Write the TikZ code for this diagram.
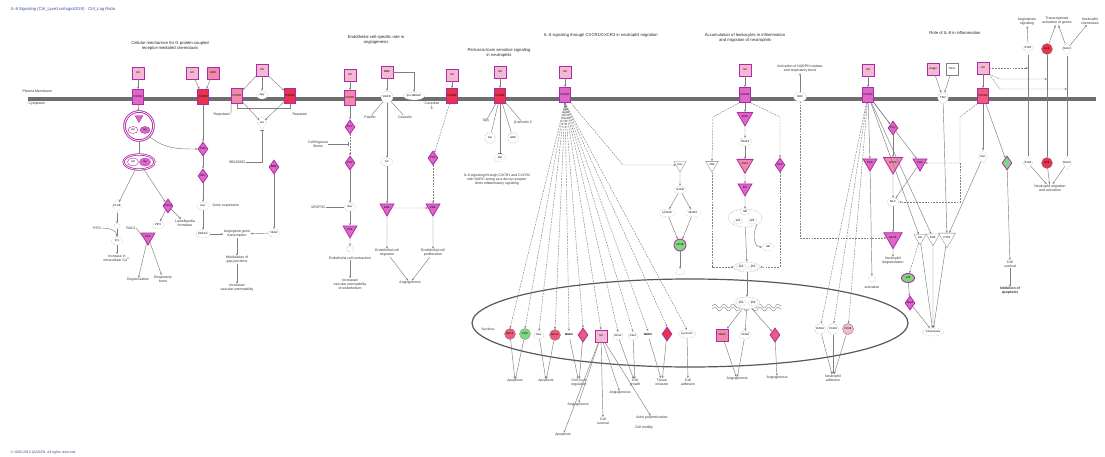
\documentclass[tikz,border=0pt]{standalone}
\usepackage{fontspec}
\setmainfont{Liberation Sans}
\usetikzlibrary{shapes.geometric,arrows.meta,decorations.pathmorphing}
\definecolor{pinkL}{HTML}{F4B8D4}
\definecolor{pinkM}{HTML}{F08AAC}
\definecolor{redM}{HTML}{EE5A78}
\definecolor{redD}{HTML}{E8334F}
\definecolor{magD}{HTML}{B02AA8}
\definecolor{magF}{HTML}{DD66C8}
\definecolor{memG}{HTML}{6E6E6E}
\definecolor{lnG}{HTML}{7F7F7F}
\definecolor{grnF}{HTML}{7ED87E}
\definecolor{ttlB}{HTML}{3A4BB0}
\newcommand\txsz{\fontsize{3.5}{4}\selectfont}
\newcommand\hdsz{\fontsize{4.2}{4.8}\selectfont}
\newcommand\nsz{\fontsize{2.7}{3.1}\selectfont}
\begin{document}
\begin{tikzpicture}[x=1pt,y=-1pt,
  every node/.style={inner sep=0.4pt},
  txt/.style={font=\txsz,align=center,text=black!80},
  hd/.style={font=\hdsz,align=center,text=black!85},
  lig/.style={rectangle,draw=magD,line width=0.7pt,fill=pinkL,minimum width=12pt,minimum height=12pt,font=\nsz},
  rec/.style={rectangle,draw=magD,line width=0.7pt,fill=redM,minimum width=11pt,minimum height=15pt,font=\nsz},
  enz/.style={diamond,draw=magD,line width=0.8pt,fill=magF,minimum width=10pt,minimum height=14pt,inner sep=0pt,font=\nsz},
  kin/.style={regular polygon,regular polygon sides=3,shape border rotate=180,draw=magD,line width=0.8pt,fill=magF,minimum size=16pt,inner sep=0pt,font=\nsz},
  wht/.style={ellipse,draw=lnG,densely dotted,line width=0.3pt,fill=white,minimum width=12pt,minimum height=8pt,font=\nsz},
  wdia/.style={diamond,draw=lnG,densely dotted,line width=0.3pt,fill=white,minimum width=10pt,minimum height=13pt,inner sep=0pt,font=\nsz},
  wtri/.style={regular polygon,regular polygon sides=3,shape border rotate=180,draw=lnG,line width=0.3pt,fill=white,minimum size=14pt,inner sep=0pt,font=\nsz},
  circ/.style={circle,draw=lnG,line width=0.3pt,fill=redM,minimum size=11pt,inner sep=0pt,font=\nsz},
  cplx/.style={ellipse,draw=magD,double=white,double distance=0.6pt,line width=0.8pt,fill=white},
  ar/.style={draw=lnG,line width=0.45pt,-{Stealth[length=2.4pt,width=2pt]}},
  da/.style={ar,dash pattern=on 1.8pt off 1.1pt},
  inh/.style={draw=lnG,line width=0.45pt,-{Bar[width=3.2pt]}},
  ln/.style={draw=lnG,line width=0.45pt},
]
\useasboundingbox (0,0) rectangle (1105,457);
\fill[white] (0,0) rectangle (1105,457);

% ---------- header / footer ----------
\node[anchor=west,font=\hdsz,text=ttlB] (ttl) at (10,9) {IL-8 Signaling (Ctrl\_Lyve1vsAngio2019) : Ctrl\_Log Ratio};
\node[anchor=west,font=\txsz,text=ttlB] (cpy) at (10,453) {\textcopyright{} 2000-2019 QIAGEN. All rights reserved.};

% ---------- membrane ----------
\node[fill=memG,minimum width=1068pt,minimum height=4.5pt,inner sep=0pt] (mem) at (562,99) {};
\node[txt,anchor=west] (pm) at (22,91) {Plasma Membrane};
\node[txt,anchor=west] (cy) at (28,104) {Cytoplasm};

% ---------- section titles ----------
\node[hd] (t1) at (170,46) {Cellular mechanism for G protein-coupled\\receptor-mediated chemotaxis};
\node[hd] (t2) at (376,40) {Endothelial cell-specific role in\\angiogenesis};
\node[hd] (t3) at (499,53) {Pertussis-toxin sensitive signaling\\in neutrophils};
\node[hd] (t4) at (601,35) {IL-8 signaling through CXCR1/CXCR2 in neutrophil migration};
\node[hd] (t5) at (745,38) {Accumulation of leukocytes in inflammation\\and migration of neutrophils};
\node[hd] (t6) at (955,33) {Role of IL-8 in inflammation};
\node[txt] (tRA) at (1027,22) {Angiotensin\\signaling};
\node[txt] (tRB) at (1057,21) {Transcriptional\\activation of genes};
\node[txt] (tRC) at (1090,21) {Neutrophil\\chemotaxis};

% ---------- section 1 ----------
\node[lig] (L1) at (138,73) {IL8};
\node[rec,fill=magF] (R1) at (138,97) {CXCR1};
\node[circle,draw=magD,double=white,double distance=0.7pt,line width=0.9pt,minimum size=29pt,fill=white] (C1) at (139,126) {};
\node[regular polygon,regular polygon sides=3,shape border rotate=180,fill=magF,draw=magD,minimum size=9pt,inner sep=0pt] (C1a) at (139,118) {};
\node[ellipse,draw=magD,fill=white,minimum width=10pt,minimum height=7pt,font=\nsz,inner sep=0pt] (C1b) at (133,130) {Gβ};
\node[ellipse,draw=magD,fill=magF,minimum width=10pt,minimum height=7pt,font=\nsz,inner sep=0pt] (C1c) at (145,130) {Gγ};
\node[cplx,minimum width=31pt,minimum height=15pt] (E1) at (139,162) {};
\node[ellipse,draw=magD,fill=white,minimum width=11pt,minimum height=8pt,font=\nsz,inner sep=0pt] (E1a) at (133,162) {Gβ};
\node[ellipse,draw=magD,fill=magF,minimum width=11pt,minimum height=8pt,font=\nsz,inner sep=0pt] (E1b) at (145,162) {Gγ};
\node[wdia] (D1) at (117,206) {PLCβ};
\node[enz] (D2) at (168,206) {PI3Kγ};
\node[wht,minimum width=6pt,minimum height=5pt] (W1) at (117,226) {};
\node[wht] (W2) at (117,241) {IP3};
\node[txt] (tCa) at (117,258) {Increase in\\intracellular Ca\textsuperscript{2+}};
\node[txt] (tDAG) at (97,228) {PIP2};
\node[txt] (tRAC) at (131,228) {RAC2};
\node[kin] (T1) at (148,237) {PKC};
\node[txt] (tDeg) at (138,280) {Degranulation};
\node[txt] (tRes) at (163,279) {Respiratory\\burst};
\node[wht] (W3) at (158,225) {PIP3};
\node[txt] (tLam) at (185,223) {Lamellipodia\\formation};

\draw[ar] (L1) -- (R1);
\draw[ar] (R1) -- (C1);
\draw[ln] (C1) -- (E1);
\draw[ar] (E1) -- (D1);
\draw[ar] (E1) -- (D2);
\draw[ar] (D1) -- (W1);
\draw[ar] (W1) -- (W2);
\draw[ar] (W2) -- (tCa);
\draw[ar] (tDAG.east) to[out=0,in=90] (W2.north);
\draw[ln] (tRAC.east) -- (T1.west);
\draw[ar] (T1) -- (tDeg);
\draw[ar] (T1) -- (tRes);
\draw[ar] (D2) -- (W3);
\draw[ar] (D2) -- (tLam);

% ---------- section 1b ----------
\node[lig] (L2) at (192,73) {IL8};
\node[lig,fill=pinkM] (L3) at (213,73) {GRO};
\node[rec,fill=redD] (R2) at (203,97) {CXCR2};
\node[enz] (D3) at (203,149) {PI3K};
\node[enz] (D4) at (203,176) {AKT};
\node[wht] (W4) at (203,206) {Rac};
\node[txt,anchor=west] (tGE) at (212,206) {Gene expression};
\node[wht] (W5) at (203,234) {ERK\\[-0.5pt]1/2};
\node[txt] (tAng) at (237,234) {Angiogenic gene\\transcription};
\node[txt] (tMob) at (237,260) {Mobilization of\\gap junctions};
\node[txt] (tVas) at (237,288) {Increased\\vascular permeability};
\node[enz] (D5) at (274,167) {MMP};
\node[wht] (W6) at (274,233) {VEGF};

\draw[ar] (L2) -- (R2);
\draw[ar] (L3) -- (R2);
\draw[ar] (R2) -- (D3);
\draw[ar] (C1.south east) to[out=-40,in=180] (D3.west);
\draw[ar] (D3) -- (D4);
\draw[ar] (D4) -- (W4);
\draw[ar] (W4) -- (W5);
\draw[ar] (W5) -- (tAng);
\draw[ar] (W6) -- (tAng);
\draw[ar] (D5) -- (W6);
\draw[ar] (tAng) -- (tMob);
\draw[ar] (tMob) -- (tVas);

\node[lig] (L4) at (262,70) {IL8};
\node[rec,fill=pinkM] (R3) at (237,96) {CXCR1};
\node[rec,fill=redD] (R4) at (290,96) {CXCR2};
\node[wht] (W7) at (262,95) {Gβγ};
\node[wdia] (W8) at (262,123) {Gα};
\node[txt] (tSB) at (237,162) {SB225002};
\node[txt] (tRp1) at (222,115) {Repertaxin};
\node[txt] (tRp2) at (300,115) {Reparixin};
\draw[ar] (L4) -- (R3);
\draw[ar] (L4) -- (R4);
\draw[ar] (L4) -- (W7);
\draw[ar] (R3) -- (W8);
\draw[ar] (R4) -- (W8);
\draw[ln,line width=0.9pt] (R3.south) -- ++(0,5) -| (R4.south);
\draw[inh] (tSB.east) -| (W8.south);
\draw[ln] (tRp1.north east) -- (R3.south west);

% ---------- section 2 ----------
\node[lig] (L5) at (350,75) {IL8};
\node[rec,fill=pinkM] (R5) at (350,98) {CXCR1};
\node[enz] (D6) at (350,127) {PLC};
\node[enz] (D7) at (350,163) {PKC};
\node[txt] (tHyp) at (318,144) {Cell/Hypoxia\\Stress};
\coordinate (hypE) at (348,144);
\node[wht] (W9) at (350,207) {Rac};
\node[txt] (tVR) at (318,207) {VEGFR2};
\node[kin] (T2) at (350,230) {PAK};
\node[wht,minimum width=7pt,minimum height=6pt] (W10) at (350,249) {};
\node[txt] (tEC) at (350,258) {Endothelial cell contraction};
\node[txt] (tIV) at (350,284) {Increased\\vascular permeability\\of endothelium};
\draw[ar] (L5) -- (R5);
\draw[ar] (R5) -- (D6);
\draw[da] (D6) -- (D7);
\draw[inh] (tHyp.east) -- (hypE);
\draw[ar] (D7) -- (W9);
\draw[ln] (tVR) -- (W9);
\draw[ar] (W9) -- (T2);
\draw[ar] (T2) -- (W10);
\draw[ar] (tEC) -- (tIV);

\node[lig] (L6) at (387,72) {MMP};
\node[circle,draw=lnG,densely dotted,line width=0.3pt,fill=white,minimum size=12pt,inner sep=0pt,font=\nsz] (W11) at (387,97) {EGFR};
\node[txt] (tP1) at (370,117) {Paxillin};
\node[txt] (tP2) at (405,117) {Caveolin};
\node[wht,minimum width=20pt] (E2) at (414,96) {pro-HBEGF};
\node[wht] (W12) at (387,162) {Src};
\node[kin] (T3) at (387,208) {ERK};
\node[kin] (T4) at (433,208) {ERK};
\node[lig] (L7) at (452,75) {IL8};
\node[rec,fill=redD] (R6) at (452,96) {CXCR2};
\node[txt] (tCav) at (432,106) {Caveolae\\$\downarrow$};
\node[enz] (D8) at (433,158) {PKC};
\node[txt] (tEM) at (387,253) {Endothelial cell\\migration};
\node[txt] (tEP) at (433,253) {Endothelial cell\\proliferation};
\node[txt] (tAn) at (410,283) {Angiogenesis};
\draw[ar] (L6) -- (W11);
\draw[ar] (L6.east) -| (E2.north);
\draw[ln] (W11) -- (tP1);
\draw[ln] (W11) -- (tP2);
\draw[ar] (W11) -- (W12);
\draw[ar] (W12) -- (T3);
\draw[da] (T3) -- (T4);
\draw[ar] (T3) -- (tEM);
\draw[ar] (T4) -- (tEP);
\draw[ar] (tEM) -- (tAn);
\draw[ar] (tEP) -- (tAn);
\draw[ar] (L7) -- (R6);
\draw[da] (R6) -- (D8);
\draw[da] (D8) -- (T4);

% ---------- section 3 ----------
\node[lig] (L8) at (500,72) {IL8};
\node[rec,fill=redD] (R7) at (500,96) {CXCR2};
\node[txt] (tS1) at (486,121) {Gβγ};
\node[circle,draw=lnG,densely dotted,fill=white,minimum size=11pt,inner sep=0pt,font=\nsz] (W13) at (490,138) {Gαi};
\node[circle,draw=lnG,densely dotted,fill=white,minimum size=11pt,inner sep=0pt,font=\nsz] (W14) at (513,138) {GRK};
\node[txt] (tS2) at (523,123) {β-arrestin 2};
\node[wht] (W15) at (500,158) {JAK};
\node[txt] (tPara) at (497,180) {IL-8 signaling through CXCR1 and CXCR2\\with DARC acting as a decoy receptor\\limits inflammatory signaling};
\draw[ar] (L8) -- (R7);
\draw[ln] (R7) -- (tS1);
\draw[ln] (R7) -- (W13);
\draw[ln] (R7) -- (W14);
\draw[ln] (R7) -- (tS2);
\draw[inh] (R7) -- (W15);

% ---------- nucleus ----------
\node[ellipse,draw=black!65,line width=1.2pt,minimum width=436pt,minimum height=88pt] (nuc) at (690,323) {};
\node[txt] (tNuc) at (488,329) {Nucleus};
\node[circ] (N1) at (510,334) {BCL2};
\node[circ,fill=grnF] (N2) at (525,334) {CDK};
\node[wht,minimum width=10pt] (N3) at (539,335) {Bax};
\node[circ] (N4) at (555,335) {Bcl-xL};
\node[wht,draw=white,font=\nsz\bfseries] (N5) at (569,335) {MMP2};
\node[enz,fill=redM] (N6) at (583,335) {};
\node[lig,fill=pinkL] (N7) at (601,336) {IL8};
\node[wht,minimum width=10pt] (N8) at (618,336) {RhoA};
\node[wht,minimum width=10pt] (N9) at (633,336) {Cdc2};
\node[wht,draw=white,font=\nsz\bfseries] (N10) at (648,335) {MMP9};
\node[enz,fill=redD] (N11) at (667,334) {};
\node[wht,minimum width=16pt] (N12) at (687,334) {Cyclin D1};
\node[lig,fill=pinkM] (N13) at (722,335) {VEGF};
\node[wht] (N14) at (745,335) {VCAM};
\node[enz,fill=redM] (N15) at (775,335) {};
\node[txt] (tO1) at (515,381) {Apoptosis};
\node[txt] (tO2) at (546,381) {Apoptosis};
\node[txt] (tO3) at (579,383) {Cell cycle\\regulation};
\node[txt] (tO4) at (620,393) {Angiogenesis};
\node[txt] (tO5) at (635,383) {Cell\\growth};
\node[txt] (tO6) at (662,382) {Tissue\\invasion};
\node[txt] (tO7) at (688,382) {Cell\\adhesion};
\node[txt] (tO8) at (737,379) {Angiogenesis};
\node[txt] (tO9) at (777,378) {Angiogenesis};
\node[txt] (tB1) at (578,405) {Angiogenesis};
\node[txt] (tB2) at (603,421) {Cell\\survival};
\node[txt] (tB3) at (563,435) {Apoptosis};
\node[txt] (tB4) at (652,418) {Actin polymerization};
\node[txt] (tB5) at (644,428) {Cell motility};

% ---------- section 4 ----------
\node[lig] (L9) at (565,72) {IL8};
\node[rec,fill=magF] (R8) at (565,95) {CXCR1};
\node[wtri] (T5) at (680,165) {Rac};
\node[wht] (W16) at (680,190) {mTOR};
\node[wht,minimum width=15pt] (W17) at (667,213) {p70S6K};
\node[wht,minimum width=15pt] (W18) at (693,213) {4E-BP1};
\node[circle,draw=magD,line width=0.8pt,fill=grnF,minimum size=12pt,inner sep=0pt,font=\nsz] (G1) at (680,245) {eIF4E};
\node[wht,minimum width=9pt,minimum height=6pt] (W19) at (680,272) {};
\coordinate (k1) at (623,165);
\draw[ar] (L9) -- (R8);
\draw[da] (R8.south east) -- (k1) -- (T5.west);
\draw[ar] (T5) -- (W16);
\draw[ar] (W16) -- (W17);
\draw[ar] (W16) -- (W18);
\draw[ar] (W17) -- (G1);
\draw[ar] (W18) -- (G1);
\draw[ar] (G1) -- (W19);
\foreach \n in {N1,N2,N3,N4,N5,N6,N7,N8,N9,N10,N11,N12}{\draw[da] (R8.south) -- (\n.north);}
\draw[ar] (N1) -- (tO1);
\draw[ar] (N2) -- (tO1);
\draw[ar] (N3) -- (tO2);
\draw[ar] (N4) -- (tO2);
\draw[ar] (N5) -- (tO3);
\draw[ar] (N6) -- (tO3);
\draw[ar] (N7) -- (tO4);
\draw[ar] (N7) -- (tB1);
\draw[ar] (N7) -- (tB2);
\draw[ar] (N7) -- (tB3);
\draw[ar] (N7) -- (tB4);
\draw[ar] (N8) -- (tO5);
\draw[ar] (N9) -- (tO5);
\draw[ar] (N10) -- (tO6);
\draw[ar] (N11) -- (tO6);
\draw[ar] (N12) -- (tO7);
\draw[ar] (N13) -- (tO8);
\draw[ar] (N14) -- (tO8);
\draw[ar] (N15) -- (tO9);

% ---------- section 5 ----------
\node[lig] (L10) at (745,70) {IL8};
\node[rec,fill=magF] (R9) at (745,95) {CXCR1};
\node[kin] (T7) at (745,117) {IRAK};
\node[wht] (W20) at (745,142) {TRAF6};
\node[kin,fill=pinkM] (T8) at (745,164) {TAK1};
\node[kin] (T9) at (745,188) {IKK};
\node[ellipse,draw=lnG,densely dotted,fill=white,minimum width=34pt,minimum height=18pt] (E3) at (745,218) {};
\node[wht,minimum width=9pt,minimum height=6pt] (E3a) at (745,212) {IκB};
\node[wht,minimum width=9pt,minimum height=6pt] (E3b) at (738,221) {p50};
\node[wht,minimum width=9pt,minimum height=6pt] (E3c) at (752,221) {p65};
\node[wht] (W21) at (768,247) {IκB};
\node[ellipse,draw=lnG,densely dotted,fill=white,minimum width=26pt,minimum height=10pt] (E4) at (747,267) {};
\node[wht,minimum width=10pt,minimum height=6pt] (E4a) at (741,267) {p50};
\node[wht,minimum width=10pt,minimum height=6pt] (E4b) at (753,267) {p65};
\draw[lnG,line width=0.4pt,decorate,decoration={snake,amplitude=2pt,segment length=9pt}] (712,306) -- (782,306);
\draw[lnG,line width=0.4pt,decorate,decoration={snake,amplitude=2pt,segment length=9pt}] (712,309) -- (782,309);
\node[ellipse,draw=lnG,densely dotted,fill=white,minimum width=26pt,minimum height=12pt] (E5) at (747,303) {};
\node[wht,minimum width=10pt,minimum height=6pt] (E5a) at (741,303) {p50};
\node[wht,minimum width=10pt,minimum height=6pt] (E5b) at (753,303) {p65};
\node[wtri] (T6) at (712,165) {JNK};
\node[enz] (D9) at (780,165) {PKC};
\node[wht,minimum width=13pt,minimum height=9pt] (W22) at (800,97) {NOX};
\node[txt] (tNOX) at (800,69) {Activation of NADPH oxidase\\and respiratory burst};
\coordinate (k2) at (713,117);
\coordinate (k3) at (780,117);
\draw[ar] (L10) -- (R9);
\draw[ar] (R9) -- (T7);
\draw[ar] (T7) -- (W20);
\draw[ar] (W20) -- (T8);
\draw[ar] (T8) -- (T9);
\draw[ar] (T9) -- (E3);
\draw[ar] (E3.south east) to[out=-120,in=180] (W21.west);
\draw[ar] (E3) -- (E4);
\draw[ar] (E4) -- (E5);
\draw[da] (R9.south west) -- (k2) -- (T6.north);
\draw[da] (T6.south) |- (E4.west);
\draw[da] (R9.south east) -- (k3) -- (D9.north);
\draw[da] (D9.south) |- (E4.east);
\draw[ar] (W22) -- (tNOX);
\draw[ar] (E5) -- (N13);
\draw[ar] (E5) -- (N14);
\draw[ar] (E5) -- (N15);

% ---------- section 6 ----------
\node[lig] (L11) at (868,70) {IL8};
\node[rec,fill=magF] (R10) at (868,95) {CXCR2};
\node[enz] (D10) at (893,128) {PLD};
\node[kin] (T10) at (870,163) {PKC};
\node[kin,fill=pinkM] (T11) at (893,163) {ROCK};
\node[kin] (T12) at (920,163) {PAK};
\node[wht] (M1) at (893,202) {MLC};
\node[kin] (T13) at (893,238) {MLCK};
\node[txt] (tND) at (893,261) {Neutrophil\\degranulation};
\node[wht,minimum width=8pt,minimum height=6pt] (W24) at (872,279) {};
\node[txt] (tAdh) at (872,287) {activation};
\node[wtri] (A1) at (920,238) {Akt};
\node[wtri] (A2) at (933,238) {ERK};
\node[wtri] (A3) at (947,238) {PYK2};
\node[ellipse,draw=magD,line width=0.9pt,fill=grnF,minimum width=13pt,minimum height=9pt,inner sep=0pt,font=\nsz] (E6) at (908,278) {p38};
\node[enz] (D11) at (910,303) {Rap1};
\node[wht,minimum width=20pt] (W28) at (933,332) {Chemotaxis};
\node[circle,draw=lnG,densely dotted,fill=white,minimum size=11pt,inner sep=0pt,font=\nsz] (W29) at (820,329) {ICAM1};
\node[circle,draw=lnG,densely dotted,fill=white,minimum size=11pt,inner sep=0pt,font=\nsz] (W30) at (833,329) {CD11b};
\node[circle,draw=lnG,fill=pinkL,minimum size=11pt,inner sep=0pt,font=\nsz] (C5) at (848,329) {CD18};
\node[txt] (tNA) at (833,378) {Neutrophil\\adhesion};
\coordinate (k4) at (960,117);
\coordinate (k5) at (960,163);
\draw[ar] (L11) -- (R10);
\draw[ar] (R10) -- (D10);
\draw[ar] (R10) -- (T10);
\draw[ar] (D10) -- (T11);
\draw[ar] (R10) -- (T12);
\draw[ar] (T11) -- (M1);
\draw[ar] (T12) -- (M1);
\draw[ar] (M1) -- (T13);
\draw[ar] (T13) -- (tND);
\draw[ar] (T10) -- (W24);
\draw[da] (R10) -- (W29);
\draw[da] (R10) -- (W30);
\draw[da] (R10) -- (C5);
\draw[ar] (R10) -- (A1);
\draw[ar] (R10) -- (A2);
\draw[ar] (W29) -- (tNA);
\draw[ar] (W30) -- (tNA);
\draw[ar] (C5) -- (tNA);
\draw[da] (A1) -- (E6);
\draw[ar] (E6) -- (D11);
\draw[ar] (D11) -- (W28);
\draw[ar] (A1) -- (W28);
\draw[ar] (A2) -- (W28);
\draw[ar] (A3) -- (W28);
\draw[da] (W22.south) |- (T13.west);

% ---------- Angpt / IL8 right ----------
\node[lig] (L12) at (933,69) {Angpt};
\node[lig,fill=white,draw=lnG] (L13) at (952,69) {Tie2L};
\node[circle,draw=lnG,densely dotted,fill=white,minimum size=11pt,inner sep=0pt,font=\nsz] (Tie) at (943,98) {TIE2};
\node[lig] (L14) at (983,68) {IL8};
\node[rec,fill=redM] (R11) at (983,96) {CXCR1};
\node[wdia] (Wd) at (983,157) {Rac};
\node[enz,fill=grnF] (D12) at (1007,163) {};
\node[txt] (tCS) at (1010,264) {Cell\\survival};
\node[txt,font=\txsz\bfseries] (tCS2) at (1010,291) {Inhibition of\\apoptosis};
\draw[ar] (L12) -- (Tie);
\draw[ar] (L13) -- (Tie);
\draw[ar] (Tie) -- (A3);
\draw[da] (R11.south west) -- (k4) -- (k5) -- (T12.east);
\draw[da] (k5) |- (M1.east);
\draw[ar] (L14) -- (R11);
\draw[ar] (R11) -- (Wd);
\draw[ar] (R11) -- (D12);
\draw[ar] (Wd) -- (A3);
\draw[ar] (D12) -- (tCS);
\draw[ar] (tCS) -- (tCS2);

\node[wdia] (W31) at (1028,48) {AT1R};
\node[circ,fill=redD] (C6) at (1047,49) {ACE};
\node[wdia] (W32) at (1067,49) {RAC2};
\node[wdia] (W33) at (1028,163) {AT1R};
\node[circ,fill=redD] (C7) at (1047,163) {ACE};
\node[wdia] (W34) at (1067,163) {RAC2};
\node[txt] (tRD) at (1050,188) {Neutrophil migration\\and activation};
\coordinate (kr1) at (1028,68);
\coordinate (ka2) at (1000,79);
\coordinate (kr2) at (1047,79);
\coordinate (ka3) at (1000,89);
\coordinate (kr3) at (1067,89);
\draw[ar] (W31) -- (tRA);
\draw[ar] (C6) -- (tRB);
\draw[ar] (W32) -- (tRB);
\draw[ar] (W32) -- (tRC);
\draw[ln] (W31) -- (W33);
\draw[ln,line width=0.9pt] (C6) -- (C7);
\draw[ln] (W32) -- (W34);
\draw[ar] (W33) -- (tRD);
\draw[ar] (C7) -- (tRD);
\draw[ar] (W34) -- (tRD);
\draw[da] (L14.east) -- (kr1);
\draw[da] (L14.south east) -- (ka2) -- (kr2);
\draw[da] (L14.south east) -- (ka3) -- (kr3);
\end{tikzpicture}
\end{document}
